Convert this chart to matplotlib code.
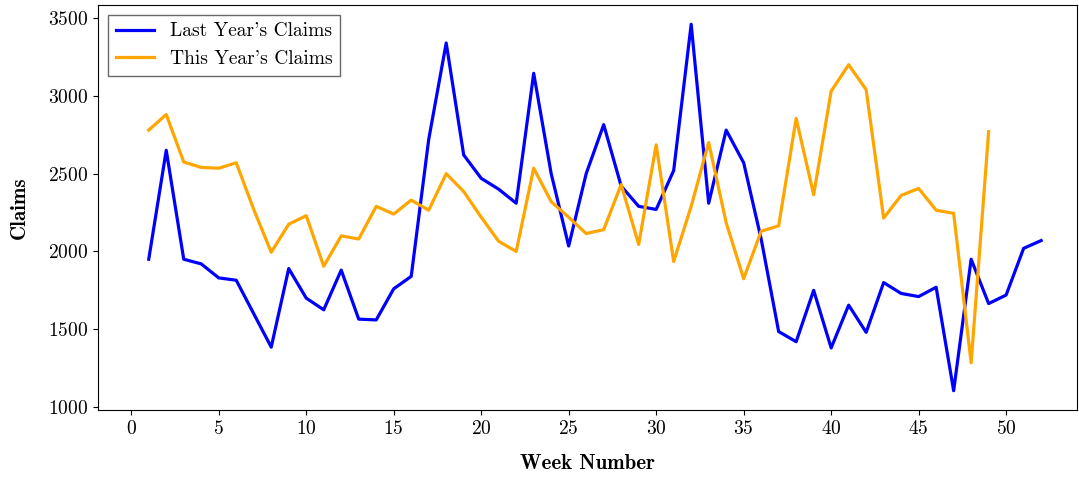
import matplotlib
matplotlib.use("Agg")
import matplotlib.pyplot as plt

plt.rcParams['font.family'] = 'serif'
plt.rcParams['font.serif'] = ['cmr10', 'DejaVu Serif']
plt.rcParams['axes.formatter.use_mathtext'] = True

# weekly claims
last_year = [1950, 2650, 1950, 1920, 1830, 1815, 1600, 1385, 1890, 1700,
             1625, 1880, 1565, 1560, 1760, 1840, 2720, 3340, 2620, 2470,
             2400, 2310, 3145, 2500, 2035, 2500, 2815, 2420, 2290, 2270,
             2520, 3460, 2310, 2780, 2570, 2080, 1485, 1420, 1750, 1380,
             1655, 1480, 1800, 1730, 1710, 1770, 1105, 1950, 1665, 1720,
             2020, 2070]
this_year = [2780, 2880, 2575, 2540, 2535, 2570, 2270, 1995, 2175, 2230,
             1905, 2100, 2080, 2290, 2240, 2330, 2265, 2500, 2385, 2220,
             2065, 2000, 2535, 2320, 2220, 2115, 2140, 2430, 2045, 2685,
             1935, 2290, 2700, 2185, 1825, 2130, 2165, 2855, 2365, 3030,
             3200, 3040, 2215, 2360, 2405, 2265, 2245, 1285, 2770]
weeks_last = list(range(1, len(last_year) + 1))
weeks_this = list(range(1, len(this_year) + 1))

fig = plt.figure(figsize=(10.79, 4.8), dpi=100)
ax = fig.add_axes([98 / 1079, 1 - 410 / 480, 979 / 1079, 405 / 480])
ax.plot(weeks_last, last_year, color='blue', lw=2.3, label="Last Year's Claims")
ax.plot(weeks_this, this_year, color='orange', lw=2.3, label="This Year's Claims")

ax.set_xlim(-1.9, 54.05)
ax.set_ylim(981, 3584)
ax.set_xticks(range(0, 55, 5))
ax.set_yticks(range(1000, 3501, 500))
ax.tick_params(labelsize=14)
ax.set_xlabel('Week Number', fontsize=15, fontfamily='cmb10', labelpad=12)
ax.set_ylabel('Claims', fontsize=15, fontfamily='cmb10', labelpad=14)
ax.legend(loc='upper left', fontsize=14, fancybox=False, edgecolor='#444444')

fig.savefig('out.png', dpi=100)
